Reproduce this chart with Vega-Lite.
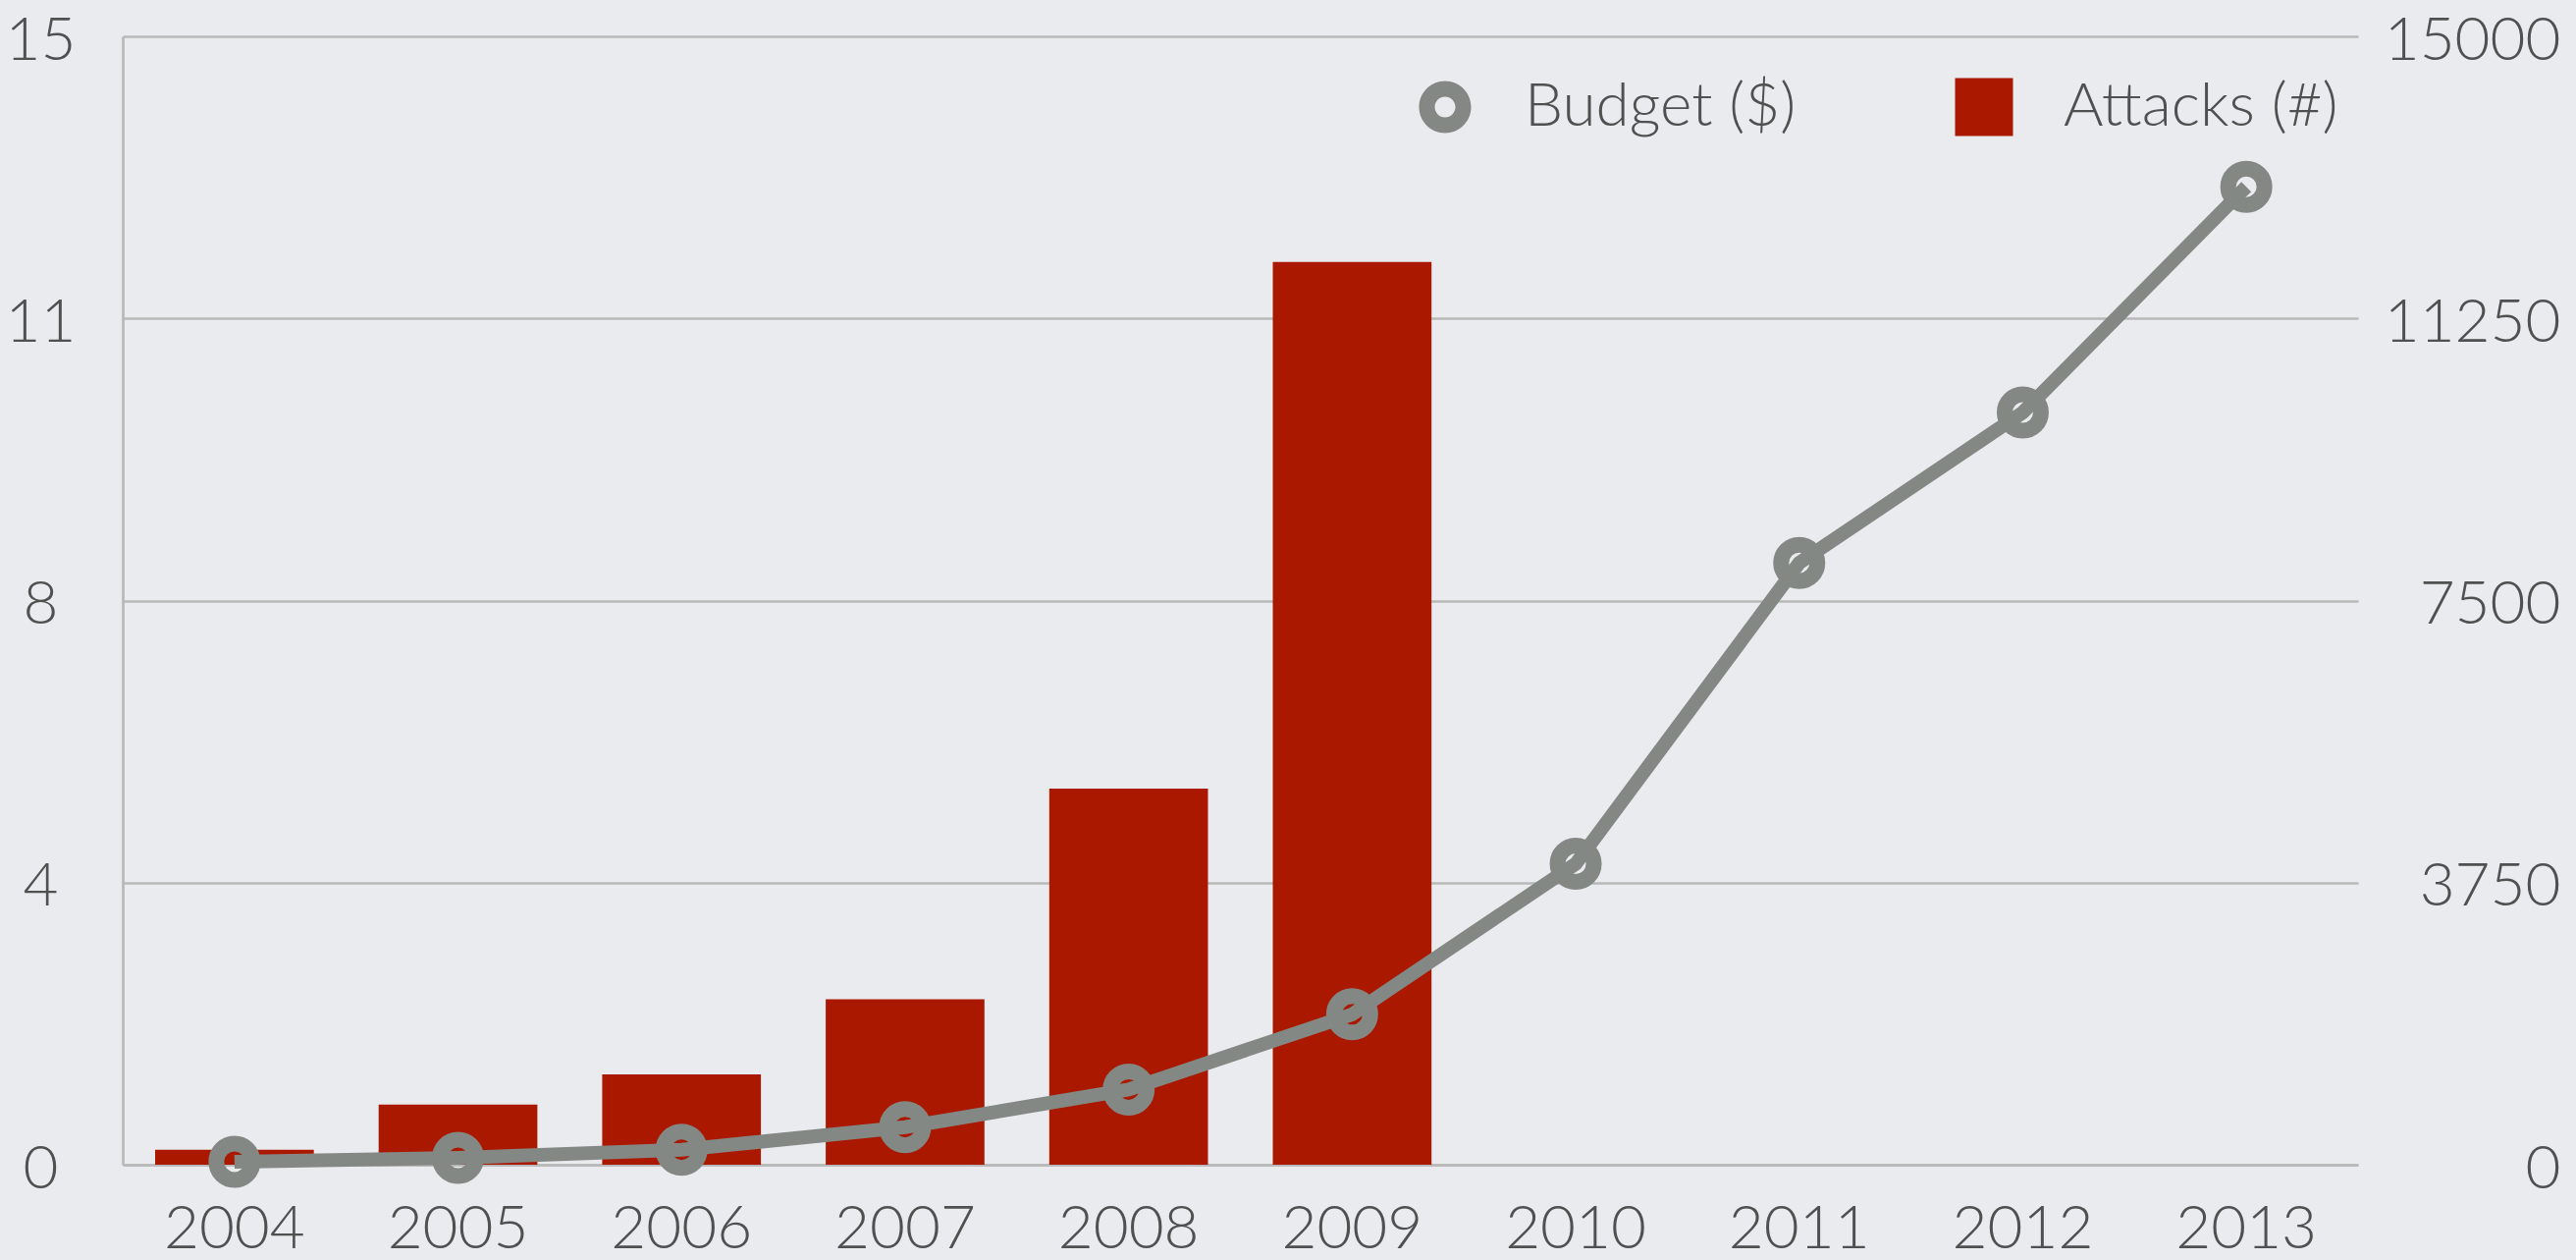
{
  "$schema": "https://vega.github.io/schema/vega-lite/v6.json",
  "width": 2277,
  "height": 1149,
  "autosize": {"type": "none"},
  "padding": {"left": 125, "top": 37, "right": 222, "bottom": 97},
  "background": "#e9ebee",
  "config": {
    "view": {"stroke": null},
    "font": "Lato",
    "axis": {
      "labelFont": "Lato",
      "labelFontSize": 62,
      "labelFontWeight": 300,
      "labelColor": "#505050",
      "ticks": false,
      "title": null,
      "gridColor": "#b9b9b9",
      "gridWidth": 2.7,
      "domainColor": "#b9b9b9",
      "domainWidth": 2.7
    }
  },
  "data": {
    "values": [
      {"year": "2004", "attacks": 0.2, "budget": 40},
      {"year": "2005", "attacks": 0.8, "budget": 90},
      {"year": "2006", "attacks": 1.2, "budget": 200},
      {"year": "2007", "attacks": 2.2, "budget": 500},
      {"year": "2008", "attacks": 5.0, "budget": 1000},
      {"year": "2009", "attacks": 12.0, "budget": 2000},
      {"year": "2010", "budget": 4000},
      {"year": "2011", "budget": 8000},
      {"year": "2012", "budget": 10000},
      {"year": "2013", "budget": 13000}
    ]
  },
  "layer": [
    {
      "mark": {"type": "bar", "color": "#aa1800"},
      "encoding": {
        "x": {
          "field": "year", "type": "ordinal",
          "scale": {"paddingInner": 0.29, "paddingOuter": 0.145},
          "axis": {"labelAngle": 0, "labelPadding": 84, "labelBaseline": "alphabetic", "domain": true, "grid": false}
        },
        "y": {
          "field": "attacks", "type": "quantitative",
          "scale": {"domain": [0, 15], "nice": false},
          "axis": {
            "orient": "left",
            "values": [0, 3.75, 7.5, 11.25, 15],
            "labelExpr": "round(datum.value)",
            "labelAlign": "center",
            "labelPadding": 84,
            "labelOffset": 4,
            "grid": true,
            "domain": true
          }
        },
        "color": {
          "datum": "Attacks (#)",
          "type": "nominal",
          "scale": {"domain": ["Budget ($)", "Attacks (#)"], "range": ["#838884", "#aa1800"]},
          "legend": {
            "orient": "none",
            "legendX": 1316,
            "legendY": 41,
            "direction": "horizontal",
            "title": null,
            "padding": 0,
            "symbolSize": 3481,
            "symbolType": "square",
            "symbolStrokeWidth": 0,
            "labelFont": "Lato",
            "labelFontSize": 62,
            "labelFontWeight": 300,
            "labelColor": "#505050",
            "labelOffset": 50,
            "columnPadding": 160,
            "labelLimit": 600,
            "encode": {
              "symbols": {
                "update": {
                  "shape": {"signal": "datum.value === 'Budget ($)' ? 'M0.898,0A0.898,0.898,0,1,1,-0.898,0A0.898,0.898,0,1,1,0.898,0ZM0.356,0A0.356,0.356,0,1,0,-0.356,0A0.356,0.356,0,1,0,0.356,0Z' : 'square'"},
                  "size": {"value": 3481},
                  "fillOpacity": {"value": 1},
                  "strokeWidth": {"value": 0},
                  "opacity": {"value": 1}
                }
              }
            }
          }
        }
      }
    },
    {
      "mark": {
        "type": "line",
        "strokeWidth": 14,
        "point": {"filled": false, "fill": "transparent", "size": 1369, "strokeWidth": 16}
      },
      "encoding": {
        "x": {"field": "year", "type": "ordinal"},
        "y": {
          "field": "budget", "type": "quantitative",
          "scale": {"domain": [0, 15000], "nice": false},
          "axis": {
            "orient": "right",
            "values": [0, 3750, 7500, 11250, 15000],
            "format": "d",
            "labelAlign": "right",
            "labelPadding": 206,
            "labelOffset": 4,
            "grid": false,
            "domain": false
          }
        },
        "color": {"datum": "Budget ($)", "type": "nominal"}
      }
    }
  ],
  "resolve": {"scale": {"y": "independent"}}
}
